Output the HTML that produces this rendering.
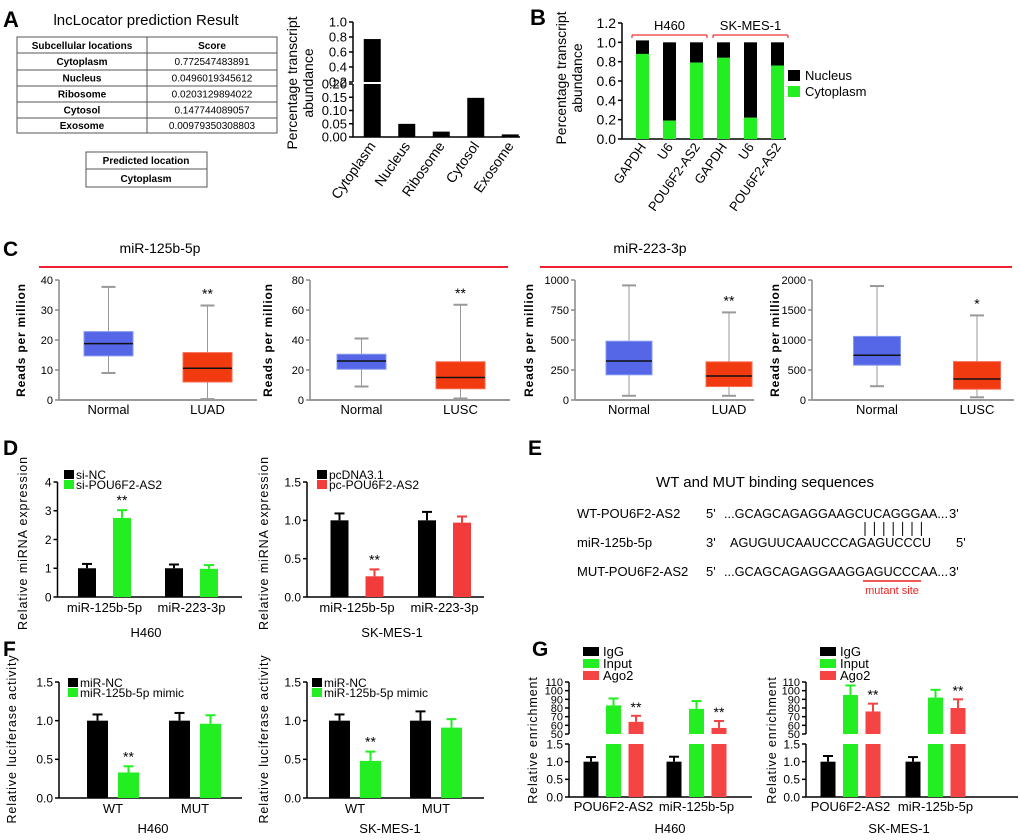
<!DOCTYPE html>
<html><head><meta charset="utf-8"><style>
html,body{margin:0;padding:0;background:#fff;}
svg{display:block;}
text{font-family:"Liberation Sans",sans-serif;}
.n{font-family:"Liberation Sans",sans-serif;}
</style></head><body>
<svg id="fig" width="1020" height="840" viewBox="0 0 1020 840" xmlns="http://www.w3.org/2000/svg"></svg>
<script>
// ---------- DATA ----------
const aCats=['Cytoplasm','Nucleus','Ribosome','Cytosol','Exosome'];
const aScores=[0.772547483891,0.0496019345612,0.0203129894022,0.147744089057,0.00979350308803];
const aScoreText=['0.772547483891','0.0496019345612','0.0203129894022','0.147744089057','0.00979350308803'];
const aUpperTicks=[0.2,0.4,0.6,0.8,1.0];
const aUpperLabels=['0.2','0.4','0.6','0.8','1.0'];
const aLowerTicks=[0,0.05,0.1,0.15,0.2];
const aLowerLabels=['0.00','0.05','0.10','0.15','0.20'];

const bCats=['GAPDH','U6','POU6F2-AS2','GAPDH','U6','POU6F2-AS2'];
const bCyto=[0.88,0.19,0.79,0.84,0.22,0.76];
const bNuc=[0.14,0.81,0.21,0.16,0.78,0.24];
const bTicks=[0,0.2,0.4,0.6,0.8,1.0,1.2];
const bLabels=['0.0','0.2','0.4','0.6','0.8','1.0','1.2'];

const c1Cats=['Normal','LUAD'];
const c1Stats=[[9,14.7,18.8,22.8,37.7],[0.3,6,10.6,15.8,31.5]];
const c1Ticks=[0,10,20,30,40];
const c2Cats=['Normal','LUSC'];
const c2Stats=[[9,20.5,26,30.5,41],[1,7.5,15,25.5,63.5]];
const c2Ticks=[0,20,40,60,80];
const c3Cats=['Normal','LUAD'];
const c3Stats=[[35,210,325,490,955],[35,112,200,318,730]];
const c3Ticks=[0,250,500,750,1000];
const c4Cats=['Normal','LUSC'];
const c4Stats=[[230,580,745,1060,1900],[45,180,350,640,1410]];
const c4Ticks=[0,500,1000,1500,2000];
const cStars=[['','**'],['','**'],['','**'],['','*']];

const dCats=['miR-125b-5p','miR-223-3p'];
const d1Ctrl=[1.0,1.0]; const d1CtrlErr=[0.15,0.13];
const d1Treat=[2.75,0.98]; const d1TreatErr=[0.27,0.13];
const d1Ticks=[0,1,2,3,4]; const d1Labels=['0','1','2','3','4'];
const d2Ctrl=[1.0,1.0]; const d2CtrlErr=[0.09,0.11];
const d2Treat=[0.27,0.97]; const d2TreatErr=[0.09,0.08];
const d2Ticks=[0,0.5,1.0,1.5]; const d2Labels=['0.0','0.5','1.0','1.5'];

const fCats=['WT','MUT'];
const f1Ctrl=[1.0,1.0]; const f1CtrlErr=[0.08,0.1];
const f1Mimic=[0.33,0.96]; const f1MimicErr=[0.08,0.11];
const f2Ctrl=[1.0,1.0]; const f2CtrlErr=[0.08,0.12];
const f2Mimic=[0.48,0.91]; const f2MimicErr=[0.12,0.11];
const fTicks=[0,0.5,1.0,1.5]; const fLabels=['0.0','0.5','1.0','1.5'];

const gCats=['POU6F2-AS2','miR-125b-5p'];
const g1IgG=[1.0,1.0]; const g1IgGErr=[0.13,0.14];
const g1Input=[83,79]; const g1InputErr=[8,9];
const g1Ago2=[64,57]; const g1Ago2Err=[7,8];
const g2IgG=[1.0,1.0]; const g2IgGErr=[0.16,0.13];
const g2Input=[95,92]; const g2InputErr=[11,9];
const g2Ago2=[76,80]; const g2Ago2Err=[9,10];
const gUpperTicks=[50,60,70,80,90,100,110];
const gLowerTicks=[0,0.5,1.0,1.5]; const gLowerLabels=['0.0','0.5','1.0','1.5'];

// ---------- HELPERS ----------
const NS='http://www.w3.org/2000/svg';
const svg=document.getElementById('fig');
function mk(tag,attrs,name){
  const el=document.createElementNS(NS,tag);
  for(const k in attrs) el.setAttribute(k,attrs[k]);
  
  
  svg.appendChild(el);
  return el;
}
function txt(x,y,s,attrs,name){const t=mk('text',Object.assign({x:x,y:y},attrs||{}),name);t.textContent=s;return t;}
function ln(x1,y1,x2,y2,stroke,w,name){return mk('line',{x1:x1,y1:y1,x2:x2,y2:y2,stroke:stroke,'stroke-width':w},name);}
function rc(x,y,w,h,fill,name,extra){return mk('rect',Object.assign({x:x,y:y,width:w,height:h,fill:fill},extra||{}),name);}
function lin(d0,d1,r0,r1){return v=>r0+(v-d0)/(d1-d0)*(r1-r0);}
function yAxis(x,sc,ticks,labels,fs,color,w,cls,name){
  ln(x,sc(ticks[0]),x,sc(ticks[ticks.length-1]),color,w,name+'-line');
  ticks.forEach((t,i)=>{
    const y=sc(t);
    ln(x-4,y,x,y,color,w,name+'-tick');
    txt(x-6,y+fs*0.36,labels[i],{'font-size':fs,'text-anchor':'end',fill:'#000','class':cls||''},name+'-label');
  });
}
function vtitle(x,y,s,fs,name,extra){
  return txt(x,y,s,Object.assign({'font-size':fs,'text-anchor':'middle',transform:'rotate(-90 '+x+' '+y+')'},extra||{}),name);
}
function errBar(cx,yTop,yErr,color,name){
  ln(cx,yTop,cx,yErr,color,2,name);
  ln(cx-5,yErr,cx+5,yErr,color,2,name+'-cap');
}

// ---------- PANEL A ----------
txt(3,27,'A',{'font-size':22,'font-weight':'bold'},'panel-a-label');
txt(146,25,'lncLocator prediction Result',{'font-size':15,'text-anchor':'middle'},'table-title');
const rowYs=[37,53,70,86,102,118,133];
rc(17,37,260,96,'none','results-table',{stroke:'#555','stroke-width':1});
rowYs.slice(1,6).forEach(y=>ln(17,y,277,y,'#555',1,'table-row-line'));
ln(147,37,147,133,'#555',1,'table-column-line');
txt(82,49,'Subcellular locations',{'font-size':10,'font-weight':'bold','text-anchor':'middle'},'table-header-location');
txt(212,49,'Score',{'font-size':10,'font-weight':'bold','text-anchor':'middle'},'table-header-score');
aCats.forEach((c,i)=>{
  const y=(rowYs[i+1]+rowYs[i+2])/2+3.5;
  txt(82,y,c,{'font-size':10,'font-weight':'bold','text-anchor':'middle'},'table-location');
  txt(212,y,aScoreText[i],{'font-size':10,'text-anchor':'middle'},'table-score');
});
rc(86,152,121,35,'none','predicted-location-box',{stroke:'#555','stroke-width':1});
ln(86,169,207,169,'#555',1,'predicted-divider');
txt(146,164,'Predicted location',{'font-size':10,'font-weight':'bold','text-anchor':'middle'},'predicted-header');
txt(146,182,'Cytoplasm',{'font-size':10,'font-weight':'bold','text-anchor':'middle'},'predicted-value');

const aLow=lin(0,0.2,137,84), aUp=lin(0.2,1.0,82,22);
yAxis(353,aLow,aLowerTicks,aLowerLabels,13,'#000',1.5,'','a-lower-axis');
yAxis(353,aUp,aUpperTicks,aUpperLabels,13,'#000',1.5,'','a-upper-axis');
ln(353,137,520,137,'#000',1.5,'a-x-axis');
vtitle(297,83,'Percentage transcript',14,'a-y-title');
vtitle(313,83,'abundance',14,'a-y-title-2');
aCats.forEach((c,i)=>{
  const cx=355+(i+0.5)*34.5;
  const v=aScores[i];
  const top=v>0.2?aLow(0.2):aLow(v);
  rc(cx-8.5,top,17,137-top,'#000','a-bar-'+c.toLowerCase());
  if(v>0.2) rc(cx-8.5,aUp(v),17,82-aUp(v),'#000','a-bar-upper-'+c.toLowerCase());
  txt(cx+4,146,c,{'font-size':14,'text-anchor':'end',transform:'rotate(-55 '+(cx+4)+' 146)'},'a-x-label');
});

// ---------- PANEL B ----------
txt(530,25,'B',{'font-size':22,'font-weight':'bold'},'panel-b-label');
const bSc=lin(0,1.2,139,23);
yAxis(622,bSc,bTicks,bLabels,14,'#000',1.5,'','b-y-axis');
ln(622,139,786,139,'#000',1.5,'b-x-axis');
vtitle(566,78,'Percentage transcript',14,'b-y-title');
vtitle(582,78,'abundance',14,'b-y-title-2');
bCats.forEach((c,i)=>{
  const cx=629+(i+0.5)*27;
  rc(cx-6.5,bSc(bCyto[i]+bNuc[i]),13,bSc(bCyto[i])-bSc(bCyto[i]+bNuc[i]),'#000','b-bar-nucleus');
  rc(cx-6.5,bSc(bCyto[i]),13,139-bSc(bCyto[i]),'#22ee22','b-bar-cytoplasm');
  txt(cx+4,147,c,{'font-size':13,'text-anchor':'end',transform:'rotate(-55 '+(cx+4)+' 147)'},'b-x-label');
});
[['H460',0],['SK-MES-1',3]].forEach(g=>{
  const x1=629+g[1]*27+3, x2=629+(g[1]+3)*27-3;
  ln(x1,35,x2,35,'#e33',1.2,'b-bracket');
  ln(x1,35,x1,38,'#e33',1.2,'b-bracket-end');
  ln(x2,35,x2,38,'#e33',1.2,'b-bracket-end');
  txt((x1+x2)/2,30,g[0],{'font-size':13,'text-anchor':'middle'},'b-group-label');
});
rc(788,70,12,11,'#000','b-legend-nucleus-swatch');
txt(805,80,'Nucleus',{'font-size':13},'b-legend-nucleus');
rc(788,86,12,11,'#22ee22','b-legend-cytoplasm-swatch');
txt(805,96,'Cytoplasm',{'font-size':13},'b-legend-cytoplasm');

// ---------- PANEL C ----------
txt(3,256,'C',{'font-size':21,'font-weight':'bold','class':'n'},'panel-c-label');
txt(160,253,'miR-125b-5p',{'font-size':14,'text-anchor':'middle','class':'n'},'c-title-125b');
txt(650,253,'miR-223-3p',{'font-size':14,'text-anchor':'middle','class':'n'},'c-title-223');
ln(39,267,508,267,'#ee2233',2,'c-red-line-1');
ln(540,267,1012,267,'#ee2233',2,'c-red-line-2');
const cPlots=[
  {ax:59,end:257,b0:59,bw:99,bwid:49,stats:c1Stats,cats:c1Cats,ticks:c1Ticks,yt:25},
  {ax:310,end:510,b0:312,bw:99,bwid:49,stats:c2Stats,cats:c2Cats,ticks:c2Ticks,yt:272},
  {ax:575,end:754,b0:579,bw:100,bwid:46,stats:c3Stats,cats:c3Cats,ticks:c3Ticks,yt:533},
  {ax:812,end:1014,b0:827,bw:100,bwid:47,stats:c4Stats,cats:c4Cats,ticks:c4Ticks,yt:779}
];
cPlots.forEach((p,pi)=>{
  const sc=lin(p.ticks[0],p.ticks[p.ticks.length-1],400,280);
  yAxis(p.ax,sc,p.ticks,p.ticks.map(String),11,'#888',1.5,'n','c'+(pi+1)+'-y-axis');
  ln(p.ax,400,p.end,400,'#999',2,'c'+(pi+1)+'-x-axis');
  vtitle(p.yt,340,'Reads per million',12,'c'+(pi+1)+'-y-title',{'font-weight':'bold','letter-spacing':'0.8'});
  p.stats.forEach((s,i)=>{
    const cx=p.b0+(i+0.5)*p.bw;
    const fill=i===0?'#5566e6':'#f23a10', edge=i===0?'#8899f0':'#f86a50';
    ln(cx,sc(s[0]),cx,sc(s[4]),'#999',1,'c-whisker');
    ln(cx-7,sc(s[0]),cx+7,sc(s[0]),'#999',2,'c-whisker-cap');
    ln(cx-7,sc(s[4]),cx+7,sc(s[4]),'#999',2,'c-whisker-cap');
    rc(cx-p.bwid/2,sc(s[3]),p.bwid,sc(s[1])-sc(s[3]),fill,'c-box-'+p.cats[i].toLowerCase(),{stroke:edge,'stroke-width':1});
    ln(cx-p.bwid/2,sc(s[2]),cx+p.bwid/2,sc(s[2]),'#111',1.5,'c-median');
    txt(cx,414,p.cats[i],{'font-size':13,'text-anchor':'middle','class':'n'},'c-x-label');
    if(cStars[pi][i]) txt(cx,sc(s[4])-7,cStars[pi][i],{'font-size':14,'text-anchor':'middle','class':'n'},'c-significance');
  });
});

// ---------- BAR PANELS (D, F) ----------
function barPanel(o){
  const sc=lin(o.ticks[0],o.ticks[o.ticks.length-1],o.yb,o.yt);
  yAxis(o.ax,sc,o.ticks,o.labels,12,'#000',1.5,'n',o.name+'-y-axis');
  ln(o.ax,o.yb,o.end,o.yb,'#000',1.5,o.name+'-x-axis');
  o.cats.forEach((c,i)=>{
    const gc=o.x0+(i+0.5)*o.bw;
    o.series.forEach((s,j)=>{
      const cx=gc+(j-(o.series.length-1)/2)*o.pitch;
      const v=s.vals[i];
      errBar(cx,sc(v),sc(v+s.errs[i]),s.color,o.name+'-error-bar');
      rc(cx-o.w/2,sc(v),o.w,o.yb-sc(v),s.color,o.name+'-bar-'+s.key);
      if(s.stars&&s.stars[i]) txt(cx,sc(v+s.errs[i])-5,s.stars[i],{'font-size':14,'text-anchor':'middle','class':'n'},o.name+'-significance');
    });
    txt(gc,o.yb+15,c,{'font-size':13,'text-anchor':'middle','class':'n'},o.name+'-x-label');
  });
  o.series.forEach((s,j)=>{
    rc(o.lx,o.ly+j*10-9,10,9,s.color,o.name+'-legend-swatch');
    txt(o.lx+12,o.ly+j*10,s.label,{'font-size':12,'class':'n'},o.name+'-legend-'+s.key);
  });
  txt(o.cellX,o.cellY,o.cell,{'font-size':13,'text-anchor':'middle','class':'n'},o.name+'-cell-line');
  vtitle(o.ytx,o.ytc,o.ytitle,12.5,o.name+'-y-title',{'letter-spacing':'0.9'});
}
txt(3,455,'D',{'font-size':21,'font-weight':'bold','class':'n'},'panel-d-label');
barPanel({name:'d1',ax:57.5,end:242,yb:597,yt:482,ticks:d1Ticks,labels:d1Labels,cats:dCats,x0:61,bw:87,pitch:35,w:18,
  series:[{key:'si-nc',label:'si-NC',vals:d1Ctrl,errs:d1CtrlErr,color:'#000'},
          {key:'si-pou6f2-as2',label:'si-POU6F2-AS2',vals:d1Treat,errs:d1TreatErr,color:'#22ee22',stars:['**','']}],
  lx:64,ly:479,cell:'H460',cellX:146,cellY:637,ytx:27,ytc:543,ytitle:'Relative miRNA expression'});
barPanel({name:'d2',ax:307,end:484,yb:597,yt:482,ticks:d2Ticks,labels:d2Labels,cats:dCats,x0:313.25,bw:87.5,pitch:35,w:18,
  series:[{key:'pcdna3',label:'pcDNA3.1',vals:d2Ctrl,errs:d2CtrlErr,color:'#000'},
          {key:'pc-pou6f2-as2',label:'pc-POU6F2-AS2',vals:d2Treat,errs:d2TreatErr,color:'#f23c3c',stars:['**','']}],
  lx:317,ly:479,cell:'SK-MES-1',cellX:392,cellY:637,ytx:268,ytc:543,ytitle:'Relative miRNA expression'});

txt(3,656,'F',{'font-size':21,'font-weight':'bold','class':'n'},'panel-f-label');
barPanel({name:'f1',ax:59,end:242,yb:798,yt:682,ticks:fTicks,labels:fLabels,cats:fCats,x0:72,bw:82,pitch:31,w:21,
  series:[{key:'mir-nc',label:'miR-NC',vals:f1Ctrl,errs:f1CtrlErr,color:'#000'},
          {key:'mimic',label:'miR-125b-5p mimic',vals:f1Mimic,errs:f1MimicErr,color:'#22ee22',stars:['**','']}],
  lx:68,ly:687,cell:'H460',cellX:153,cellY:833,ytx:16,ytc:739,ytitle:'Relative luciferase activity'});
barPanel({name:'f2',ax:307,end:484,yb:798,yt:682,ticks:fTicks,labels:fLabels,cats:fCats,x0:314.5,bw:81,pitch:31,w:21,
  series:[{key:'mir-nc',label:'miR-NC',vals:f2Ctrl,errs:f2CtrlErr,color:'#000'},
          {key:'mimic',label:'miR-125b-5p mimic',vals:f2Mimic,errs:f2MimicErr,color:'#22ee22',stars:['**','']}],
  lx:312,ly:687,cell:'SK-MES-1',cellX:390,cellY:833,ytx:268,ytc:739,ytitle:'Relative luciferase activity'});

// ---------- PANEL E ----------
txt(528,455,'E',{'font-size':21,'font-weight':'bold','class':'n'},'panel-e-label');
txt(765,487,'WT and MUT binding sequences',{'font-size':15,'text-anchor':'middle','class':'n'},'e-title');
const eRows=[['WT-POU6F2-AS2',"5'",'...GCAGCAGAGGAAGCUCAGGGAA...',"3'",518],
             ['miR-125b-5p',"3'",'AGUGUUCAAUCCCAGAGUCCCU',"5'",547],
             ['MUT-POU6F2-AS2',"5'",'...GCAGCAGAGGAAGGAGUCCCAA...',"3'",576]];
eRows.forEach((r,i)=>{
  txt(577,r[4],r[0],{'font-size':13,'class':'n'},'e-sequence-name');
  txt(706,r[4],r[1],{'font-size':13,'class':'n'},'e-end-label');
  const isMir=i===1;
  txt(isMir?730:724,r[4],r[2],{'font-size':13,'class':'n',textLength:isMir?201:224,lengthAdjust:'spacingAndGlyphs'},'e-sequence');
  txt(isMir?956:949,r[4],r[3],{'font-size':13,'class':'n'},'e-end-label');
});
for(let k=0;k<7;k++){ const x=865+k*9.4; ln(x,522,x,536,'#000',1,'e-pair-line'); }
ln(863,581,921,581,'#ee2222',1.5,'e-mutant-underline');
txt(892,594,'mutant site',{'font-size':11,'text-anchor':'middle',fill:'#ee2222','class':'n'},'e-mutant-label');

// ---------- PANEL G ----------
txt(532,656,'G',{'font-size':21,'font-weight':'bold','class':'n'},'panel-g-label');
function gPanel(o){
  const up=lin(50,110,734,682), lo=lin(0,1.5,797,744);
  yAxis(o.ax,up,gUpperTicks,gUpperTicks.map(String),11,'#000',1.5,'n',o.name+'-upper-axis');
  yAxis(o.ax,lo,gLowerTicks,gLowerLabels,12,'#000',1.5,'n',o.name+'-lower-axis');
  ln(o.ax,797,o.end,797,'#000',1.5,o.name+'-x-axis');
  const series=[{key:'igg',label:'IgG',vals:o.igg,errs:o.iggErr,color:'#000'},
                {key:'input',label:'Input',vals:o.inp,errs:o.inpErr,color:'#22ee22'},
                {key:'ago2',label:'Ago2',vals:o.ago,errs:o.agoErr,color:'#f44444',stars:['**','**']}];
  gCats.forEach((c,i)=>{
    const gc=o.x0+(i+0.5)*o.bw;
    series.forEach((s,j)=>{
      const cx=gc+(j-1)*22.5, v=s.vals[i];
      if(v<=1.5){
        errBar(cx,lo(v),lo(v+s.errs[i]),s.color,o.name+'-error-bar');
        rc(cx-7.5,lo(v),15,797-lo(v),s.color,o.name+'-bar-'+s.key);
      } else {
        rc(cx-7.5,744,15,53,s.color,o.name+'-bar-'+s.key+'-lower');
        errBar(cx,up(v),up(v+s.errs[i]),s.color,o.name+'-error-bar');
        rc(cx-7.5,up(v),15,734-up(v),s.color,o.name+'-bar-'+s.key+'-upper');
        if(s.stars) txt(cx,up(v+s.errs[i])-4,s.stars[i],{'font-size':14,'text-anchor':'middle','class':'n'},o.name+'-significance');
      }
    });
    txt(gc,811,c,{'font-size':13,'text-anchor':'middle','class':'n'},o.name+'-x-label');
  });
  series.forEach((s,j)=>{
    rc(o.lx,647+j*12,16,9,s.color,o.name+'-legend-swatch');
    txt(o.lx+20,656+j*12,s.label,{'font-size':13,'class':'n'},o.name+'-legend-'+s.key);
  });
  txt(o.cellX,833,o.cell,{'font-size':13,'text-anchor':'middle','class':'n'},o.name+'-cell-line');
  vtitle(o.ytx,740,'Relative enrichment',12.5,o.name+'-y-title',{'letter-spacing':'0.9'});
}
gPanel({name:'g1',ax:569,end:752,x0:572,bw:83,igg:g1IgG,iggErr:g1IgGErr,inp:g1Input,inpErr:g1InputErr,ago:g1Ago2,agoErr:g1Ago2Err,lx:583,cell:'H460',cellX:670,ytx:537});
gPanel({name:'g2',ax:806,end:1018,x0:808,bw:85,igg:g2IgG,iggErr:g2IgGErr,inp:g2Input,inpErr:g2InputErr,ago:g2Ago2,agoErr:g2Ago2Err,lx:820,cell:'SK-MES-1',cellX:899,ytx:776});
</script>
</body></html>
